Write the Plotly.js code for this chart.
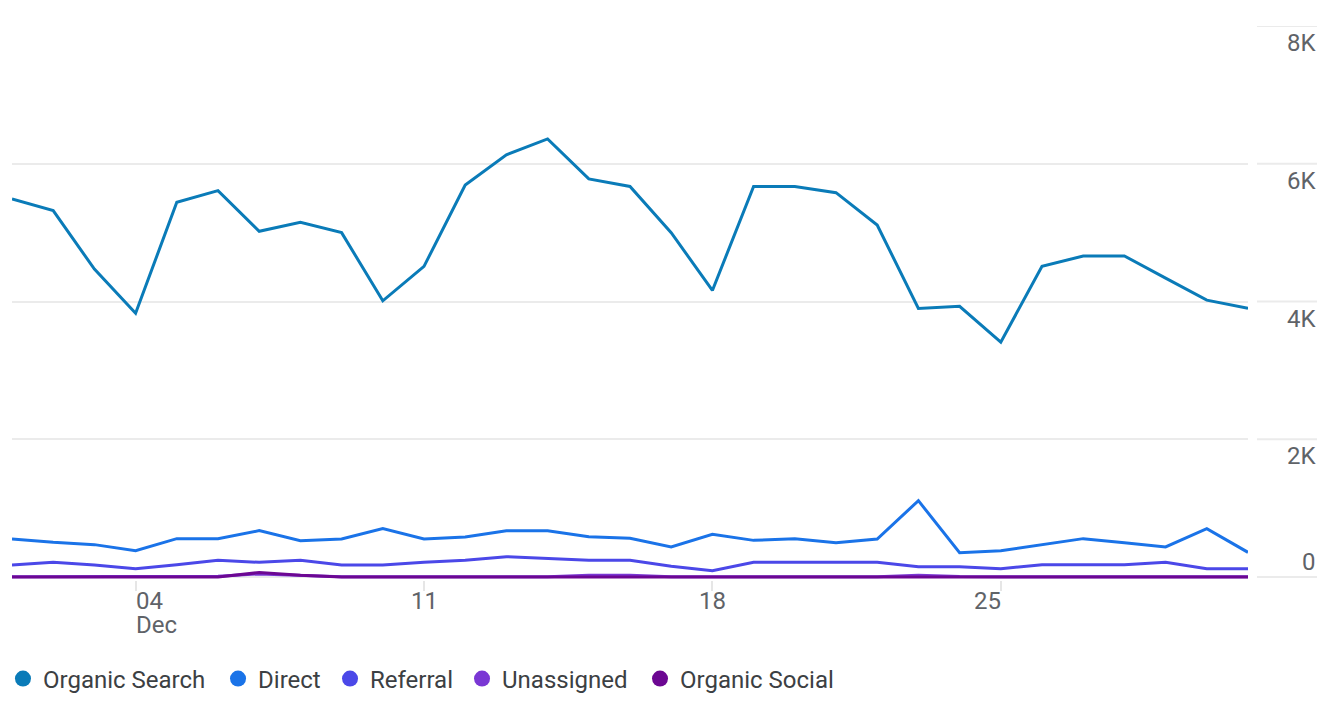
<!DOCTYPE html>
<html>
<head>
<meta charset="utf-8">
<script src="https://cdn.plot.ly/plotly-3.0.1.min.js"></script>
<style>
  html, body { margin: 0; padding: 0; background: #fff; }
  #chart { width: 1340px; height: 701px; }
</style>
</head>
<body>
<div id="chart"></div>
<script>
// ---- Data ----
const dates = [
  '2023-12-01','2023-12-02','2023-12-03','2023-12-04','2023-12-05','2023-12-06','2023-12-07',
  '2023-12-08','2023-12-09','2023-12-10','2023-12-11','2023-12-12','2023-12-13','2023-12-14',
  '2023-12-15','2023-12-16','2023-12-17','2023-12-18','2023-12-19','2023-12-20','2023-12-21',
  '2023-12-22','2023-12-23','2023-12-24','2023-12-25','2023-12-26','2023-12-27','2023-12-28',
  '2023-12-29','2023-12-30','2023-12-31'
];
const organicSearch = [5490, 5320, 4470, 3830, 5440, 5610, 5020, 5150, 5000, 4010, 4510, 5690, 6130, 6360, 5780, 5670, 5000, 4160, 5670, 5670, 5580, 5110, 3900, 3930, 3410, 4510, 4660, 4660, 4340, 4020, 3900];
const direct        = [552, 503, 470, 382, 557, 557, 673, 528, 552, 702, 552, 581, 673, 673, 586, 561, 436, 620, 532, 557, 499, 552, 1108, 353, 382, 474, 557, 499, 436, 702, 358];
const referral      = [174, 213, 174, 121, 179, 242, 213, 242, 174, 174, 213, 242, 295, 266, 242, 242, 155, 92, 213, 213, 213, 213, 150, 150, 121, 179, 179, 179, 213, 121, 121];
const unassigned    = [5, 5, 5, 5, 5, 10, 45, 30, 5, 5, 5, 5, 5, 5, 25, 25, 5, 5, 5, 5, 5, 5, 25, 8, 5, 5, 5, 5, 5, 5, 5];
const organicSocial = [0, 0, 0, 0, 0, 0, 65, 25, 0, 0, 0, 0, 0, 0, 0, 0, 0, 0, 0, 0, 0, 0, 0, 0, 0, 0, 0, 0, 0, 0, 0];

const seriesNames  = ['Organic Search', 'Direct', 'Referral', 'Unassigned', 'Organic Social'];
const seriesValues = [organicSearch, direct, referral, unassigned, organicSocial];

const yTickVals   = [0, 2000, 4000, 6000, 8000];
const yTickLabels = ['0', '2K', '4K', '6K', '8K'];
const xTickVals   = ['2023-12-04', '2023-12-11', '2023-12-18', '2023-12-25'];
const xTickLabels = ['04', '11', '18', '25'];
const xSubLabel   = 'Dec';

// ---- Styles ----
const seriesColors = ['#0a7bb8', '#1a73e8', '#4b48e8', '#7a37d4', '#6c0792'];
const xLabelAnchors = ['left', 'center', 'center', 'right'];
const xLabelShifts  = [-2, 0, 0, 2];
const legendIds = ['legend', 'legend2', 'legend3', 'legend4', 'legend5'];
const legendX   = [-0.0073, 0.1667, 0.2573, 0.3641, 0.5081];

// ---- Traces ----
const traces = [];
seriesValues.forEach((vals, i) => {
  traces.push({
    x: dates, y: vals, type: 'scatter', mode: 'lines',
    line: { color: seriesColors[i], width: 3 },
    showlegend: false, hoverinfo: 'skip'
  });
});
// legend-only circle entries (one legend per entry so spacing can follow the reference)
seriesNames.forEach((name, i) => {
  traces.push({
    x: [null], y: [null], type: 'scatter', mode: 'markers', name: name,
    marker: { color: seriesColors[i], size: 19, symbol: 'circle' },
    showlegend: true, hoverinfo: 'skip', legend: legendIds[i]
  });
});

// ---- Layout ----
const gridColor = '#ebebeb';
const labelColor = '#5f6368';
const labelFont = { family: 'Roboto, sans-serif', size: 24, color: labelColor };
const shapes = [];
const annotations = [];

// right-side short gridline segments + y labels
yTickVals.forEach((v, i) => {
  shapes.push({
    type: 'line', xref: 'paper', yref: 'y',
    x0: 1.0073, x1: 1.0558, y0: v, y1: v,
    line: { color: gridColor, width: 2 }
  });
  annotations.push({
    xref: 'paper', yref: 'y', x: 1.0565, y: v,
    xanchor: 'right', yanchor: 'middle',
    yshift: v === 0 ? 15 : -17,
    text: yTickLabels[i], showarrow: false, font: labelFont
  });
});

// x labels at their ticks
xTickVals.forEach((d, i) => {
  annotations.push({
    xref: 'x', yref: 'paper', x: d, y: 0,
    xanchor: xLabelAnchors[i], yanchor: 'middle', yshift: -21, xshift: xLabelShifts[i],
    text: xTickLabels[i], showarrow: false, font: labelFont
  });
});
annotations.push({
  xref: 'x', yref: 'paper', x: xTickVals[0], y: 0,
  xanchor: 'left', yanchor: 'middle', yshift: -45, xshift: -2,
  text: xSubLabel, showarrow: false, font: labelFont
});

const layout = {
  width: 1340, height: 701,
  margin: { l: 12, r: 92, t: 26, b: 121, pad: 0, autoexpand: false },
  paper_bgcolor: '#fff', plot_bgcolor: '#fff',
  font: { family: 'Roboto, sans-serif', color: '#3c4043' },
  xaxis: {
    type: 'date',
    range: [dates[0], dates[dates.length - 1]],
    showgrid: false, zeroline: false, showline: false,
    tickmode: 'array', tickvals: xTickVals,
    ticks: 'outside', ticklen: 10, tickwidth: 2, tickcolor: '#e6e6e6',
    showticklabels: false, fixedrange: true
  },
  yaxis: {
    range: [-43.5, 8000],
    tickmode: 'array', tickvals: yTickVals,
    showgrid: true, gridcolor: gridColor, gridwidth: 2,
    zeroline: false, showline: false, showticklabels: false, ticks: '',
    fixedrange: true
  },
  showlegend: true,
  shapes: shapes,
  annotations: annotations
};
legendIds.forEach((id, i) => {
  layout[id] = {
    orientation: 'h', x: legendX[i], xanchor: 'left', y: -0.1787, yanchor: 'middle',
    font: { family: 'Roboto, sans-serif', size: 24, color: '#3c4043' },
    itemclick: false, itemdoubleclick: false, bgcolor: 'rgba(0,0,0,0)'
  };
});

Plotly.newPlot('chart', traces, layout, { displayModeBar: false, staticPlot: true });
</script>
</body>
</html>
